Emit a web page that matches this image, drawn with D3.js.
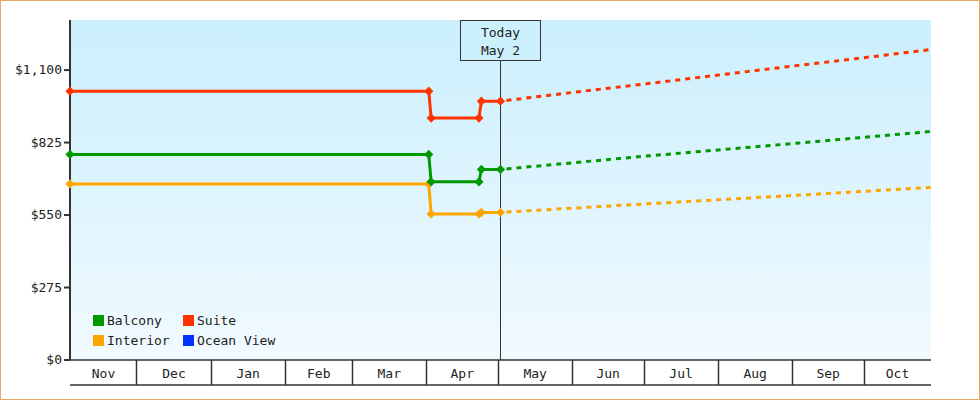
<!DOCTYPE html>
<html lang="en">
<head>
    <meta charset="UTF-8">
    <title>Cabin price history</title>
    <script src="https://d3js.org/d3.v7.min.js"></script>
    <style>
        body { margin: 0; background: #fff; }
        text { font-family: "DejaVu Sans Mono", monospace; font-size: 13px; fill: #222; }
        .axis-line { stroke: #333; fill: none; }
    </style>
</head>
<body>
    <svg width="980" height="400"></svg>
    <script>
        // price data
        const todayStr = "2025-05-02";
        const histDates = ["2024-11-03", "2025-04-02", "2025-04-03", "2025-04-23", "2025-04-24", "2025-05-02"];
        const suiteHist = [1020, 1020, 918, 918, 982, 982];
        const balconyHist = [780, 780, 676, 676, 723, 723];
        const interiorHist = [668, 668, 554, 554, 560, 560];

        const projDates = ["2025-05-02", "2025-06-01", "2025-07-01", "2025-08-01", "2025-09-01", "2025-10-01", "2025-10-29"];
        const suiteProj = [982, 1015, 1047, 1081, 1115, 1147, 1178];
        const balconyProj = [723, 748, 773, 797, 821, 845, 867];
        const interiorProj = [560, 576, 592, 608, 624, 640, 655];

        const yTicks = [0, 275, 550, 825, 1100];
        const legendNames = ["Balcony", "Suite", "Interior", "Ocean View"];
        const legendColors = ["#009900", "#ff3300", "#ffa500", "#0033ff"];

        const parse = d3.timeParse("%Y-%m-%d");
        const today = parse(todayStr);
        const pLeft = 70, pRight = 931, pTop = 20, pBottom = 360;

        const svg = d3.select("svg");

        // outer frame
        svg.append("rect").attr("x", 0.5).attr("y", 0.5).attr("width", 979).attr("height", 399)
            .attr("fill", "none").attr("stroke", "#e8a866");

        const x = d3.scaleTime()
            .domain([d3.timeDay.offset(today, -180), d3.timeDay.offset(today, 180)])
            .range([pLeft, pRight]);
        const y = d3.scaleLinear().domain([0, 1290]).range([pBottom, pTop]);

        // background gradient
        const grad = svg.append("defs").append("linearGradient")
            .attr("id", "bg").attr("x1", 0).attr("y1", 0).attr("x2", 0).attr("y2", 1);
        grad.append("stop").attr("offset", "0%").attr("stop-color", "#cbeffd");
        grad.append("stop").attr("offset", "100%").attr("stop-color", "#f1faff");
        svg.append("rect").attr("x", pLeft).attr("y", pTop).attr("width", pRight - pLeft).attr("height", pBottom - pTop)
            .attr("fill", "url(#bg)");

        // y axis
        const yAxis = svg.append("g");
        yAxis.append("line").attr("class", "axis-line").attr("stroke-width", 2)
            .attr("x1", pLeft).attr("x2", pLeft).attr("y1", pTop).attr("y2", pBottom);
        yAxis.selectAll(".tick").data(yTicks).enter().append("line")
            .attr("class", "axis-line").attr("stroke-width", 2)
            .attr("x1", pLeft - 6).attr("x2", pLeft).attr("y1", d => y(d)).attr("y2", d => y(d));
        yAxis.selectAll("text").data(yTicks).enter().append("text")
            .attr("x", pLeft - 8).attr("y", d => y(d) + 4).attr("text-anchor", "end")
            .text(d => d3.format("$,")(d));

        // x axis month bands
        const [d0, d1] = x.domain();
        const monthStarts = d3.timeMonth.range(d3.timeMonth.floor(d0), d1);
        const xAxis = svg.append("g");
        xAxis.append("line").attr("class", "axis-line").attr("stroke-width", 1.5)
            .attr("x1", pLeft).attr("x2", pRight).attr("y1", pBottom).attr("y2", pBottom);
        xAxis.append("line").attr("class", "axis-line").attr("stroke-width", 1.5)
            .attr("x1", pLeft).attr("x2", pRight).attr("y1", 385).attr("y2", 385);
        xAxis.selectAll(".sep").data(monthStarts.filter(m => m > d0)).enter().append("line")
            .attr("class", "axis-line").attr("stroke-width", 1.5)
            .attr("x1", d => Math.floor(x(d)) + 0.5).attr("x2", d => Math.floor(x(d)) + 0.5)
            .attr("y1", pBottom).attr("y2", 385);
        xAxis.selectAll("text").data(monthStarts).enter().append("text")
            .attr("x", d => {
                const a = x(d3.max([d, d0]));
                const b = x(d3.min([d3.timeMonth.offset(d, 1), d1]));
                return (a + b) / 2;
            })
            .attr("y", 378).attr("text-anchor", "middle")
            .text(d => d3.timeFormat("%b")(d));

        // today marker
        const tx = Math.floor(x(today)) + 0.5;
        svg.append("line").attr("class", "axis-line").attr("stroke-width", 1)
            .attr("x1", tx).attr("x2", tx).attr("y1", 61).attr("y2", pBottom);
        svg.append("rect").attr("x", tx - 40).attr("y", 20.5).attr("width", 80).attr("height", 40)
            .attr("fill", "#cdf0fd").attr("stroke", "#333");
        svg.append("text").attr("x", tx).attr("y", 37).attr("text-anchor", "middle").text("Today");
        svg.append("text").attr("x", tx).attr("y", 55).attr("text-anchor", "middle")
            .text("May " + today.getDate());

        // series
        const series = [
            { color: legendColors[2], hist: interiorHist, proj: interiorProj },
            { color: legendColors[0], hist: balconyHist, proj: balconyProj },
            { color: legendColors[1], hist: suiteHist, proj: suiteProj }
        ];
        const line = d3.line().x(d => x(d[0])).y(d => y(d[1]));
        const marker = d3.symbol().type(d3.symbolSquare).size(42);

        series.forEach(s => {
            const h = histDates.map((d, i) => [parse(d), s.hist[i]]);
            const p = projDates.map((d, i) => [parse(d), s.proj[i]]);
            svg.append("path").attr("d", line(p)).attr("fill", "none")
                .attr("stroke", s.color).attr("stroke-width", 3).attr("stroke-dasharray", "5,5")
                .attr("stroke-dashoffset", -6);
            svg.append("path").attr("d", line(h)).attr("fill", "none")
                .attr("stroke", s.color).attr("stroke-width", 3);
            svg.selectAll(null).data(h).enter().append("path")
                .attr("d", marker)
                .attr("transform", d => `translate(${x(d[0])},${y(d[1])}) rotate(45)`)
                .attr("fill", s.color);
        });

        // legend
        const legend = svg.append("g").selectAll("g").data(legendNames).enter().append("g")
            .attr("transform", (d, i) => `translate(${93 + (i % 2) * 90},${315 + Math.floor(i / 2) * 20})`);
        legend.append("rect").attr("width", 11).attr("height", 11).attr("fill", (d, i) => legendColors[i]);
        legend.append("text").attr("x", 14).attr("y", 10).text(d => d);
    </script>
</body>
</html>
